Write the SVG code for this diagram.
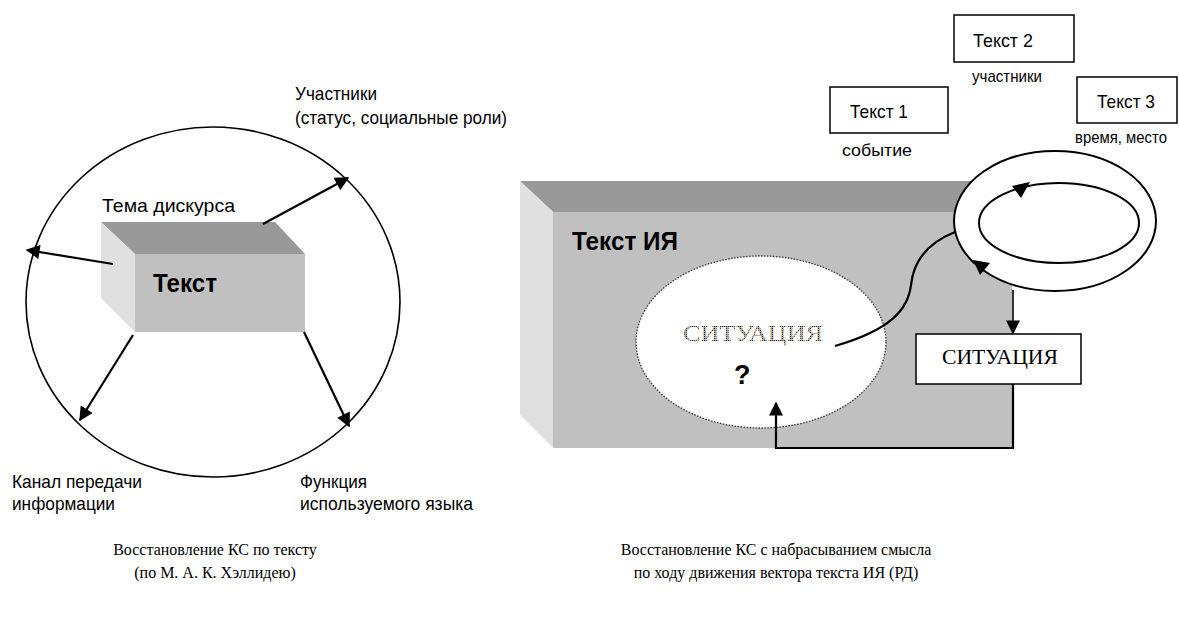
<svg xmlns="http://www.w3.org/2000/svg" width="1179" height="624" viewBox="0 0 1179 624">
<defs>
<style>
.s{font-family:"Liberation Sans Narrow","Liberation Sans",Arial,sans-serif;font-size:19px;fill:#000}
.sm{font-family:"Liberation Sans Narrow","Liberation Sans",Arial,sans-serif;font-size:19px;fill:#000}
.sl{font-family:"Liberation Sans Narrow","Liberation Sans",Arial,sans-serif;font-size:17px;fill:#000}
.sb{font-family:"Liberation Sans Narrow","Liberation Sans",Arial,sans-serif;font-weight:bold;font-size:26px;fill:#000}
.q{font-family:"Liberation Sans",Arial,sans-serif;font-weight:bold;font-size:27px;fill:#000}
.r{font-family:"Liberation Serif","Times New Roman",serif;font-size:16px;fill:#000}
.rs{font-family:"Liberation Serif","Times New Roman",serif;font-size:21px;fill:#000}
.rd{font-family:"Liberation Serif","Times New Roman",serif;font-size:24px;fill:url(#dots)}
.ln{stroke:#000;stroke-width:2.2;fill:none}
.th{stroke:#000;stroke-width:1.6;fill:none}
.bx{fill:#fff;stroke:#000;stroke-width:1.5}
</style>
<marker id="ahb" viewBox="0 0 10 10" refX="9" refY="5" markerWidth="15" markerHeight="14" orient="auto" markerUnits="userSpaceOnUse">
<path d="M0,0 L10,5 L0,10 z" fill="#000"/>
</marker>
<pattern id="dots" width="2" height="2" patternUnits="userSpaceOnUse">
<rect width="2" height="2" fill="#b0a89a"/>
<rect width="1" height="1" fill="#222"/>
</pattern>
</defs>
<rect width="1179" height="624" fill="#fff"/>

<g id="left-circle">
<ellipse cx="213" cy="302" rx="187" ry="175" class="th"/>
</g>
<g id="left-box">
<polygon points="101,222 275,222 305,254 135,254" fill="#999"/>
<polygon points="101,222 135,254 135,332 101,298" fill="#e0e0e0"/>
<rect x="135" y="254" width="170" height="78" fill="#c0c0c0"/>
<text class="sb" x="153" y="292" textLength="64" lengthAdjust="spacingAndGlyphs">Текст</text>
<text class="s" x="102" y="212" textLength="133" lengthAdjust="spacingAndGlyphs">Тема дискурса</text>
</g>
<g id="left-labels">
<text class="s" x="295" y="100" textLength="82" lengthAdjust="spacingAndGlyphs">Участники</text>
<text class="s" x="295" y="124" textLength="212" lengthAdjust="spacingAndGlyphs">(статус, социальные роли)</text>
<text class="s" x="12" y="488" textLength="130" lengthAdjust="spacingAndGlyphs">Канал передачи</text>
<text class="s" x="12" y="510" textLength="103" lengthAdjust="spacingAndGlyphs">информации</text>
<text class="s" x="300" y="488" textLength="67" lengthAdjust="spacingAndGlyphs">Функция</text>
<text class="s" x="300" y="510" textLength="173" lengthAdjust="spacingAndGlyphs">используемого языка</text>
</g>

<g id="right-box">
<polygon points="520,181 990,181 1012,212 553,212" fill="#999"/>
<polygon points="520,181 553,212 553,448 520,415" fill="#e0e0e0"/>
<rect x="553" y="212" width="459" height="236" fill="#c0c0c0"/>
<text class="sb" x="572" y="250" textLength="106" lengthAdjust="spacingAndGlyphs">Текст ИЯ</text>
</g>
<g id="situation-unknown">
<ellipse cx="761" cy="342" rx="125" ry="86" fill="#fff" stroke="#333" stroke-width="1.3" stroke-dasharray="1.5,1.5"/>
<text class="rd" x="683" y="341" textLength="140" lengthAdjust="spacingAndGlyphs">СИТУАЦИЯ</text>
<text class="q" x="734" y="384">?</text>
</g>
<g id="ring">
<ellipse cx="1055" cy="221" rx="101" ry="70" fill="#fff" stroke="#000" stroke-width="2"/>
<ellipse cx="1059" cy="223" rx="80" ry="40" fill="none" stroke="#000" stroke-width="2"/>
<polygon points="1012,186 1030,182 1021,198" fill="#000"/>
<polygon points="973,260 990,263 980,275" fill="#000"/>
</g>
<g id="situation-box">
<rect x="916" y="334" width="165" height="50" class="bx" stroke-width="2"/>
<text class="rs" x="942" y="364" textLength="116" lengthAdjust="spacingAndGlyphs">СИТУАЦИЯ</text>
</g>
<g id="text1"><rect x="830" y="87" width="118" height="46" class="bx"/><text class="sm" x="850" y="118" textLength="58" lengthAdjust="spacingAndGlyphs">Текст 1</text><text class="sl" x="842" y="156" textLength="70" lengthAdjust="spacingAndGlyphs">событие</text></g>
<g id="text2"><rect x="954" y="15" width="120" height="47" class="bx"/><text class="sm" x="973" y="47" textLength="60" lengthAdjust="spacingAndGlyphs">Текст 2</text><text class="sl" x="972" y="82" textLength="70" lengthAdjust="spacingAndGlyphs">участники</text></g>
<g id="text3"><rect x="1077" y="77" width="100" height="46" class="bx"/><text class="sm" x="1097" y="108" textLength="58" lengthAdjust="spacingAndGlyphs">Текст 3</text><text class="sl" x="1075" y="143" textLength="92" lengthAdjust="spacingAndGlyphs">время, место</text></g>

<g id="connectors">
<line x1="263" y1="224" x2="348" y2="178" class="ln" marker-end="url(#ahb)"/>
<line x1="113" y1="264" x2="27" y2="250" class="ln" marker-end="url(#ahb)"/>
<line x1="133" y1="335" x2="80" y2="420" class="ln" marker-end="url(#ahb)"/>
<line x1="304" y1="332" x2="349" y2="426" class="ln" marker-end="url(#ahb)"/>
<path d="M835,346 C890,330 908,310 911,285 C914,255 935,240 955,232" class="ln"/>
<line x1="1013" y1="290" x2="1013" y2="333" class="th" marker-end="url(#ahb)"/>
<polyline points="1013,384 1013,448 776,448 776,403" class="ln" marker-end="url(#ahb)"/>
</g>

<g id="captions">
<text class="r" x="215" y="555" text-anchor="middle">Восстановление КС по тексту</text>
<text class="r" x="215" y="578" text-anchor="middle">(по М. А. К. Хэллидею)</text>
<text class="r" x="776" y="555" text-anchor="middle">Восстановление КС с набрасыванием смысла</text>
<text class="r" x="776" y="578" text-anchor="middle">по ходу движения вектора текста ИЯ (РД)</text>
</g>
</svg>
